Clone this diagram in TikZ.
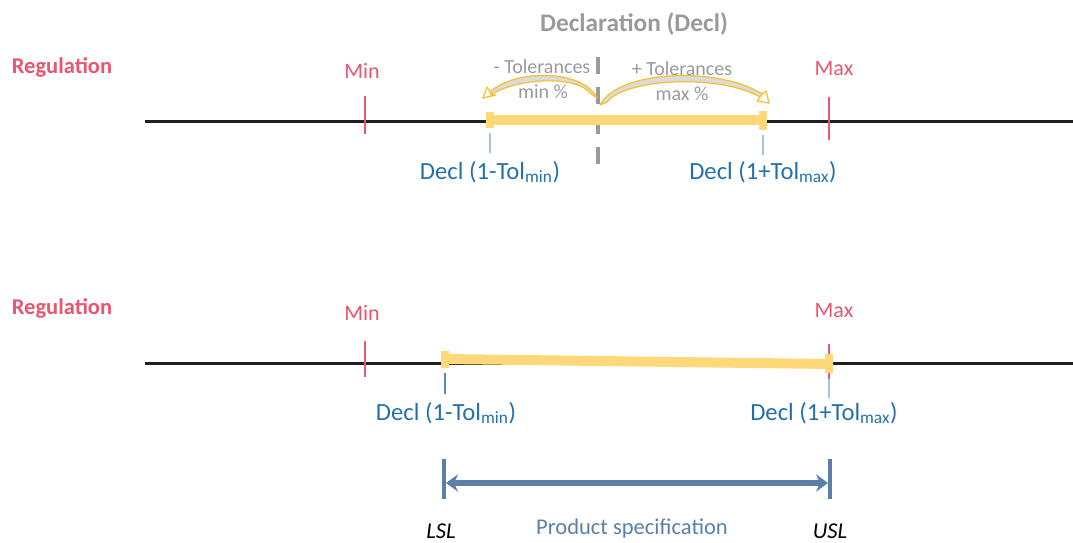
\documentclass[tikz,border=0pt]{standalone}
\usepackage{fontspec}
\setmainfont{Carlito}
\usetikzlibrary{arrows.meta}
\definecolor{regred}{HTML}{E8566F}
\definecolor{baryellow}{HTML}{FFD87A}
\definecolor{arcyellow}{HTML}{F5C02A}
\definecolor{tolgray}{HTML}{9A9A9A}
\definecolor{declblue}{HTML}{2471A8}
\definecolor{tickblue}{HTML}{A9C4DB}
\definecolor{specblue}{HTML}{5B7FA6}
\tikzset{
  axis/.style={line width=2.25pt, black!88},
  regtick/.style={line width=1.5pt, regred},
  declbar/.style={line width=7.5pt, baryellow},
  barcap/.style={fill=baryellow, draw=none},
  decltick/.style={line width=0.9pt, tickblue},
  regtxt/.style={text=regred, font=\fontsize{16.9}{20}\selectfont\bfseries},
  limtxt/.style={text=regred, font=\fontsize{16.5}{20}\selectfont},
  decltxt/.style={text=declblue, font=\fontsize{18.5}{22}\selectfont},
  toltxt/.style={text=tolgray, font=\fontsize{15}{18}\selectfont},
  arcshape/.style={draw=arcyellow, line width=0.9pt, fill=black!14, line join=round},
  archead/.style={draw=arcyellow, line width=0.9pt, fill=white, line join=round},
  spectxt/.style={text=specblue, font=\fontsize{16.9}{20}\selectfont},
  sltxt/.style={text=black, font=\fontsize{17}{20}\selectfont\itshape},
}
\begin{document}
\begin{tikzpicture}[x=0.75pt,y=-0.75pt]
\useasboundingbox (0,0) rectangle (1073,542);

% ---------- upper scale ----------
\node[regtxt] (reg1) at (62,67) {Regulation};
\coordinate (a1l) at (145,121);
\coordinate (a1r) at (1073,121);
\draw[axis] (a1l) -- (a1r);

\node[text=tolgray, font=\fontsize{19}{22}\selectfont\bfseries] (decl) at (634,24) {Declaration (Decl)};
\coordinate (dtop) at (598,57);
\coordinate (dbot) at (598,165);
\draw[line width=3.4pt, tolgray, dash pattern=on 12.75pt off 9.75pt] (dtop) -- (dbot);

\node[limtxt] (min1) at (362,71) {Min};
\node[limtxt] (max1) at (834,69) {Max};
\coordinate (min1t) at (365,96);  \coordinate (min1b) at (365,134);
\coordinate (max1t) at (829,97);  \coordinate (max1b) at (829,140);
\draw[regtick] (min1t) -- (min1b);
\draw[regtick] (max1t) -- (max1b);

% tolerance arcs
\draw[arcshape] (597,98) .. controls (584,70) and (516,68) .. (490,92)
  -- (491,95) .. controls (518,77) and (578,76) .. (590,93) -- cycle;
\draw[archead] (483,98) -- (487,87) -- (490,92) -- (491,95) -- (496,95) -- cycle;
\draw[arcshape] (600,105) .. controls (618,70) and (718,66) .. (762,94)
  -- (760,97) .. controls (720,74) and (626,78) .. (607,102) -- cycle;
\draw[archead] (769,103) -- (757,101) -- (760,97) -- (762,94) -- (766,91) -- cycle;

\node[toltxt] (tmin) at (542,67) {- Tolerances};
\node[toltxt] (tminp) at (543,92) {min \%};
\node[toltxt] (tmax) at (682,69) {+ Tolerances};
\node[toltxt] (tmaxp) at (682,94) {max \%};

% declared range
\coordinate (b1l) at (490,120);
\coordinate (b1r) at (763,120);
\draw[declbar] (b1l) -- (b1r);
\fill[barcap] (486,112) rectangle (494,128);
\fill[barcap] (759,111) rectangle (767,130);
\coordinate (t1lt) at (490,133); \coordinate (t1lb) at (490,153);
\coordinate (t1rt) at (763,135); \coordinate (t1rb) at (763,155);
\draw[decltick] (t1lt) -- (t1lb);
\draw[decltick] (t1rt) -- (t1rb);
\node[decltxt] (d1l) at (490,172) {Decl (1-Tol\textsubscript{min})};
\node[decltxt] (d1r) at (763,172) {Decl (1+Tol\textsubscript{max})};

% ---------- lower scale ----------
\node[regtxt] (reg2) at (62,308) {Regulation};
\coordinate (a2l) at (145,363);
\coordinate (a2r) at (1073,363);
\draw[axis] (a2l) -- (a2r);

\node[limtxt] (min2) at (362,313) {Min};
\node[limtxt] (max2) at (834,311) {Max};
\coordinate (min2t) at (365,341); \coordinate (min2b) at (365,377);
\coordinate (max2t) at (829,344); \coordinate (max2b) at (829,382);
\draw[regtick] (min2t) -- (min2b);
\draw[regtick] (max2t) -- (max2b);

\coordinate (b2l) at (445,359);
\coordinate (b2r) at (829,364);
\draw[declbar] (b2l) -- (b2r);
\fill[barcap] (441,351) rectangle (449,368);
\fill[barcap] (825,354) rectangle (833,373);
\coordinate (t2lt) at (445,373); \coordinate (t2lb) at (445,394);
\coordinate (t2rt) at (829,379); \coordinate (t2rb) at (829,398);
\draw[decltick, declblue!80] (t2lt) -- (t2lb);
\draw[decltick] (t2rt) -- (t2rb);
\node[decltxt] (d2l) at (446,413) {Decl (1-Tol\textsubscript{min})};
\node[decltxt] (d2r) at (824,413) {Decl (1+Tol\textsubscript{max})};

% product specification
\coordinate (lslt) at (444,459); \coordinate (lslb) at (444,499);
\coordinate (uslt) at (830,459); \coordinate (uslb) at (830,499);
\draw[line width=3pt, specblue] (lslt) -- (lslb);
\draw[line width=3pt, specblue] (uslt) -- (uslb);
\coordinate (sl) at (446,483);
\coordinate (sr) at (828,483);
\draw[line width=5pt, specblue, {Stealth[length=9pt,width=13pt,inset=3pt]}-{Stealth[length=9pt,width=13pt,inset=3pt]}] (sl) -- (sr);
\node[sltxt] (lsl) at (441,531) {LSL};
\node[sltxt] (usl) at (830,531) {USL};
\node[spectxt] (spec) at (632,528) {Product specification};
\end{tikzpicture}
\end{document}
